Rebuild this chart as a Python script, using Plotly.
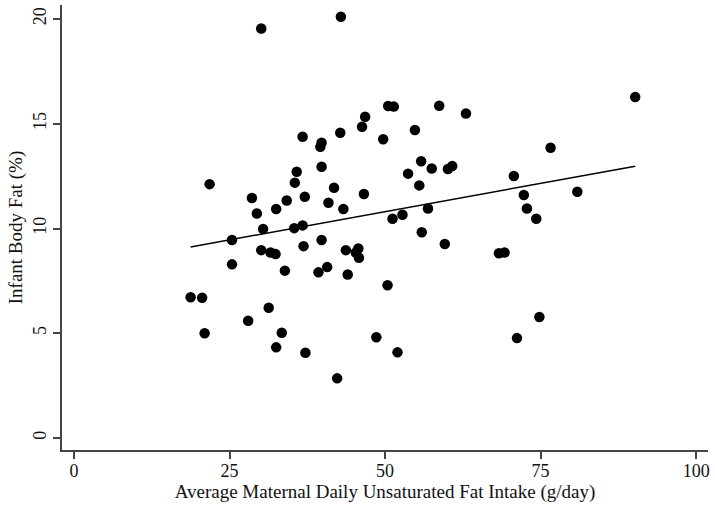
import numpy as np
import plotly.graph_objects as go

fat_intake = [18.75, 20.6, 21.0, 21.8, 25.4, 25.4, 28.0, 28.6, 29.4, 30.1,
              30.1, 30.4, 31.3, 31.6, 32.4, 32.5, 32.5, 33.4, 33.9, 34.2,
              35.4, 35.5, 35.8, 36.75, 36.75, 36.9, 37.1, 37.2, 39.3, 39.6,
              39.8, 39.8, 39.8, 40.7, 40.9, 41.8, 42.3, 42.8, 42.9, 43.3,
              43.7, 44.0, 45.3, 45.7, 45.8, 46.3, 46.6, 46.8, 48.6, 49.7,
              50.4, 50.5, 51.2, 51.4, 52.0, 52.8, 53.7, 54.8, 55.5, 55.8,
              55.9, 56.9, 57.5, 58.7, 59.6, 60.1, 60.8, 63.0, 68.3, 69.2,
              70.7, 71.2, 72.3, 72.8, 74.3, 74.8, 76.6, 80.9, 90.2]
body_fat = [6.72, 6.70, 5.0, 12.12, 9.45, 8.29, 5.6, 11.46, 10.72, 19.55,
            8.97, 9.98, 6.22, 8.86, 8.78, 10.93, 4.33, 5.03, 7.99, 11.34,
            10.02, 12.19, 12.71, 14.38, 10.15, 9.16, 11.52, 4.07, 7.91, 13.9,
            14.1, 12.95, 9.45, 8.16, 11.23, 11.95, 2.85, 14.57, 20.11, 10.93,
            8.97, 7.81, 8.86, 9.05, 8.61, 14.86, 11.65, 15.34, 4.81, 14.26,
            7.29, 15.85, 10.47, 15.82, 4.09, 10.66, 12.62, 14.70, 12.06, 13.21,
            9.82, 10.96, 12.87, 15.86, 9.26, 12.84, 12.98, 15.49, 8.82, 8.86,
            12.51, 4.77, 11.6, 10.96, 10.47, 5.78, 13.86, 11.76, 16.28]

x_ticks = [0, 25, 50, 75, 100]
y_ticks = [0, 5, 10, 15, 20]

x_title = "Average Maternal Daily Unsaturated Fat Intake (g/day)"
y_title = "Infant Body Fat (%)"

xa = np.array(fat_intake)
ya = np.array(body_fat)
slope, intercept = np.polyfit(xa, ya, 1)
fit_x = np.array([xa.min(), xa.max()])
fit_y = slope * fit_x + intercept

FONT = "Liberation Serif"

fig = go.Figure()
fig.add_trace(go.Scatter(x=fat_intake, y=body_fat, mode="markers",
                         marker=dict(size=10.5, color="black"),
                         showlegend=False, hoverinfo="x+y"))
fig.add_trace(go.Scatter(x=fit_x, y=fit_y, mode="lines",
                         line=dict(color="black", width=1.5),
                         showlegend=False))

fig.update_layout(
    width=715, height=505,
    margin=dict(l=62, r=5, t=5, b=55),
    plot_bgcolor="white", paper_bgcolor="white",
    font=dict(family=FONT, size=18, color="#111"),
    xaxis=dict(range=[-1.92, 101.9], tickvals=x_ticks, showgrid=False,
               zeroline=False, showline=True, linecolor="#444", linewidth=1.5,
               ticks="outside", ticklen=7, tickwidth=1.5, tickcolor="#444",
               ticklabelstandoff=-3, tickfont=dict(size=18),
               title=dict(text=x_title, standoff=0, font=dict(size=19))),
    yaxis=dict(range=[-0.57, 20.67], tickvals=y_ticks, showgrid=False,
               zeroline=False, showline=True, linecolor="#444", linewidth=1.5,
               ticks="outside", ticklen=7, tickwidth=1.5, tickcolor="#444",
               tickangle=-90, tickfont=dict(size=18),
               title=dict(text=y_title, standoff=2, font=dict(size=19))),
)

fig.write_html("out.html")
